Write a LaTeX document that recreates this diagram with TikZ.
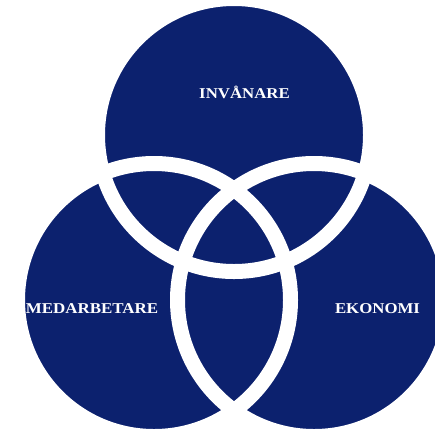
\documentclass[tikz,border=0pt]{standalone}
\usepackage{fontspec}
\setmainfont{Liberation Serif}
\definecolor{navy}{RGB}{12,33,110}
\begin{document}
\begin{tikzpicture}[x=1pt,y=-1pt,
  disc/.style={circle,fill=navy,inner sep=0pt,minimum size=273pt},
  ring/.style={draw=white,line width=15pt},
  lbl/.style={text=white,font=\fontsize{15}{15}\selectfont\bfseries,inner sep=0pt}]
\useasboundingbox[fill=white] (0,0) rectangle (435,429);
\begin{scope}
\clip (0,0) rectangle (435,429);
\node[disc] (top) at (234,135) {};
\node[disc] (left) at (154,300) {};
\node[disc] (right) at (314,300) {};
\draw[ring] (top.center) circle (136.5);
\draw[ring] (left.center) circle (136.5);
\draw[ring] (right.center) circle (136.5);
\end{scope}
\node[lbl] (t1) at (244.5,92) {\scalebox{1.12}[1]{INVÅNARE}};
\node[lbl] (t2) at (92,309) {\scalebox{1.13}[1]{MEDARBETARE}};
\node[lbl] (t3) at (377.5,308.5) {\scalebox{1.12}[1]{EKONOMI}};
\end{tikzpicture}
\end{document}
